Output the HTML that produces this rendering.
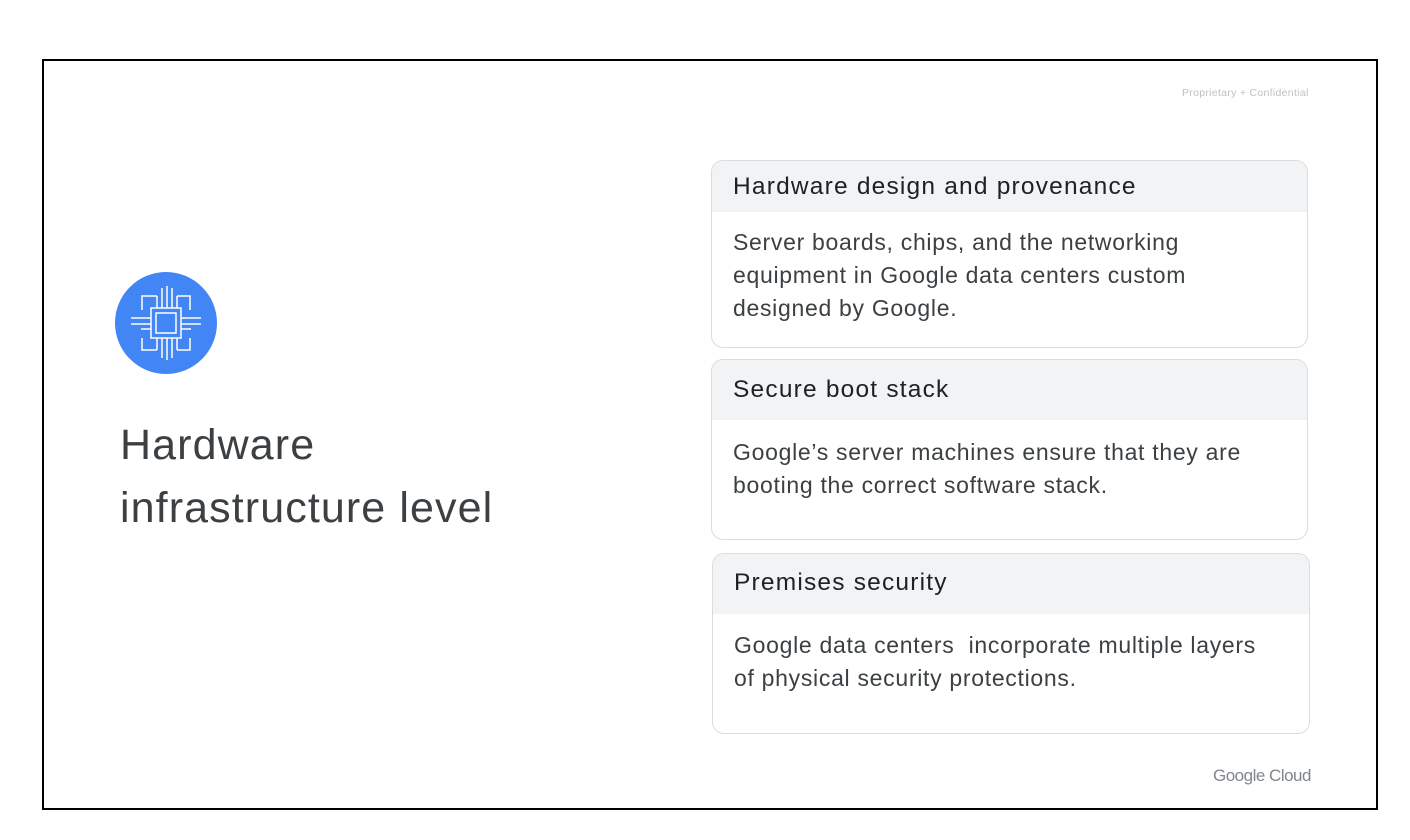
<!DOCTYPE html>
<html><head><style>
body{margin:0;width:1410px;height:840px;background:#fff;position:relative;font-family:"Liberation Sans",sans-serif;overflow:hidden}
.frame{position:absolute;left:42px;top:59px;width:1332px;height:747px;border:2px solid #000}
.abs{position:absolute}
.card{position:absolute;border:1px solid #dadce0;border-radius:12px;overflow:hidden;background:#fff}
.hd{background:#f1f3f4;color:#202124;font-size:24.5px;letter-spacing:1.2px;padding-left:21px;box-sizing:border-box}
.bd{color:#3c4043;font-size:23px;letter-spacing:0.7px;line-height:33px;padding-left:21px}
</style></head><body>
<div class="frame"></div>
<div class="abs" style="left:1182px;top:87px;font-size:10.5px;letter-spacing:0.3px;color:#bdc1c6">Proprietary + Confidential</div>
<div class="abs" style="left:1213px;top:766px;font-size:17px;color:#80868b;letter-spacing:-0.5px">Google Cloud</div>
<svg class="abs" style="left:115px;top:272px" width="102" height="102" viewBox="0 0 102 102">
<circle cx="51" cy="51" r="51" fill="#4285f4"/>
<g stroke="#fff" stroke-width="1.5" fill="none">
<rect x="36" y="36" width="30" height="30"/><rect x="41" y="41" width="20" height="20"/>
<path d="M42 36V24M47 36V16M52 36V14M57 36V16M62 36V24M42 66V78M47 66V86M52 66V88M57 66V86M62 66V78M36 46H16M36 52H16M36 57H26M66 46H86M66 52H86M66 57H76M42 24H27V38M62 24H75V38M42 78H27V66M62 78H75V66"/>
</g></svg>
<div class="abs" style="left:120px;top:414px;font-size:43px;letter-spacing:1.1px;line-height:63px;color:#3c4043">Hardware<br>infrastructure level</div>

<div class="card" style="left:711px;top:160px;width:595px;height:186px">
<div class="hd" style="height:51px;line-height:52px">Hardware design and provenance</div>
<div class="bd" style="padding-top:14px">Server boards, chips, and the networking<br>equipment in Google data centers custom<br>designed by Google.</div></div>

<div class="card" style="left:711px;top:359px;width:595px;height:179px">
<div class="hd" style="height:60px;line-height:60px">Secure boot stack</div>
<div class="bd" style="padding-top:16px">Google’s server machines ensure that they are<br>booting the correct software stack.</div></div>

<div class="card" style="left:712px;top:553px;width:596px;height:179px">
<div class="hd" style="height:60px;line-height:58px">Premises security</div>
<div class="bd" style="padding-top:15px">Google data centers&nbsp; incorporate multiple layers<br>of physical security protections.</div></div>
</body></html>
